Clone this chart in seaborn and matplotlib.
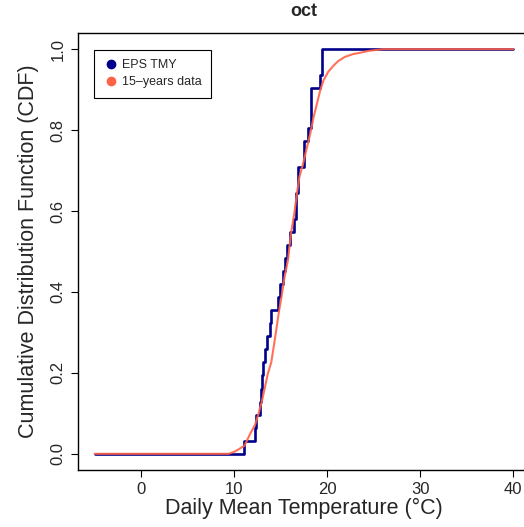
import numpy as np
import pandas as pd
import matplotlib
matplotlib.use("Agg")
import matplotlib.pyplot as plt
from matplotlib.lines import Line2D
import seaborn as sns

# ---- data ----
title = "oct"
tmy_label = "EPS TMY"
hist_label = "15\u2013years data"
x_from, x_to = -5, 40

# EPS TMY daily mean temperatures for October (31 days), sorted
tmy_temps = [11.1, 12.2, 12.3, 12.8, 12.9, 13.0, 13.05, 13.3, 13.55, 13.8,
             14.0, 14.7, 14.95, 15.2, 15.5, 15.7, 16.0, 16.4, 16.6, 16.6,
             16.9, 16.9, 17.45, 17.45, 17.9, 18.2, 18.2, 18.2, 19.2, 19.4, 19.4]

# 15-years data ECDF, read as (temperature, cdf) pairs
hist_temps = [-5, 9.4, 10.1, 11.1, 11.7, 12.26, 12.6, 12.98, 13.26, 13.6, 13.98,
              14.4, 14.77, 15.13, 15.4, 15.77, 16.1, 16.45, 16.74, 17.0, 17.4,
              17.74, 18.17, 18.53, 18.9, 19.25, 19.6, 20.1, 20.7, 21.2, 21.9,
              22.8, 23.5, 24.5, 26.0, 40]
hist_cdf = [0.0, 0.0, 0.006, 0.02, 0.049, 0.073, 0.098, 0.131, 0.16, 0.197, 0.226,
            0.288, 0.346, 0.395, 0.436, 0.478, 0.544, 0.593, 0.643, 0.684, 0.717,
            0.75, 0.791, 0.832, 0.866, 0.899, 0.923, 0.944, 0.960, 0.971, 0.981,
            0.988, 0.991, 0.996, 1.0, 1.0]

x_ticks = [0, 10, 20, 30, 40]
y_ticks = [0.0, 0.2, 0.4, 0.6, 0.8, 1.0]

tmy_color = "#00008B"
hist_color = "#FF6347"

# ---- build tables ----
n = len(tmy_temps)
tmy_df = pd.DataFrame({
    "temp": [x_from] + list(np.sort(tmy_temps)) + [x_to],
    "cdf": [0.0] + list(np.arange(1, n + 1) / n) + [1.0],
})
hist_df = pd.DataFrame({"temp": hist_temps, "cdf": hist_cdf})

# ---- plot ----
sns.set_theme(style="white")
plt.rcParams["font.family"] = ["Liberation Sans", "DejaVu Sans"]

fig = plt.figure(figsize=(5.24, 5.27), dpi=100)
ax = fig.add_axes([78 / 524, 57 / 527, 452 / 524, 437 / 527])

sns.lineplot(data=tmy_df, x="temp", y="cdf", ax=ax, color=tmy_color,
             linewidth=1.9, drawstyle="steps-post", estimator=None, sort=False)
sns.lineplot(data=hist_df, x="temp", y="cdf", ax=ax, color=hist_color,
             linewidth=1.5, alpha=0.9, estimator=None, sort=False)

ax.set_xlim(-6.8, 41.8)
ax.set_ylim(-0.04, 1.04)
ax.set_xticks(x_ticks)
ax.set_yticks(y_ticks)
ax.set_xticklabels([str(t) for t in x_ticks], fontsize=12)
ax.set_yticklabels([f"{t:.1f}" for t in y_ticks], fontsize=12, rotation=90, va="center")
ax.tick_params(axis="both", direction="out", length=5, width=0.8, color="black",
               left=True, bottom=True, pad=4)
for s in ["left", "top", "bottom", "right"]:
    ax.spines[s].set_color("black")
    ax.spines[s].set_linewidth(1.0)

ax.set_xlabel("Daily Mean Temperature (\u00b0C)", fontsize=15.5, labelpad=0)
ax.set_ylabel("Cumulative Distribution Function (CDF)", fontsize=15.5, labelpad=8)
ax.set_title(title, fontsize=13, fontweight="bold", pad=12)

handles = [
    Line2D([], [], marker="o", linestyle="none", color=tmy_color, markersize=6),
    Line2D([], [], marker="o", linestyle="none", color=hist_color, markersize=6),
]
leg = ax.legend(handles, [tmy_label, hist_label], loc="upper left",
                bbox_to_anchor=(0.035, 0.961), borderaxespad=0, fontsize=9,
                frameon=True, fancybox=False, edgecolor="black", framealpha=1,
                handletextpad=0.3, handlelength=1.2, borderpad=0.75, labelspacing=0.4)
leg.get_frame().set_linewidth(0.8)

fig.savefig("out.png", dpi=100)
